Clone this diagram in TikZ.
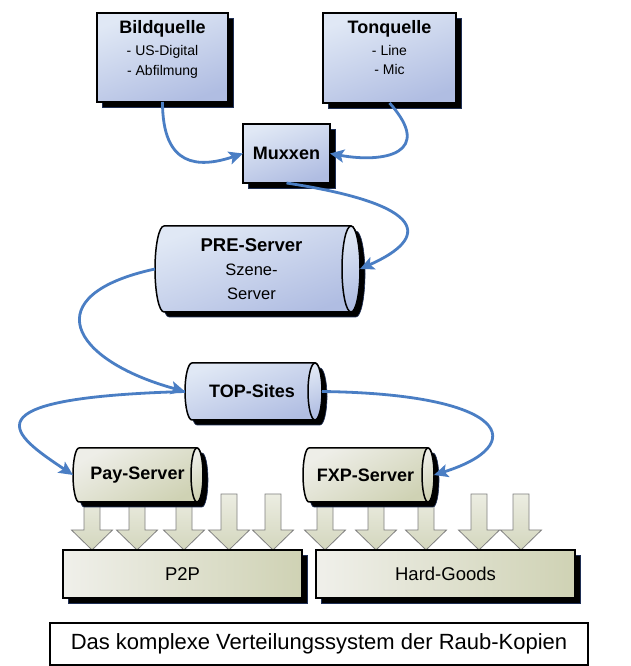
\documentclass[tikz,border=0pt]{standalone}
\usepackage{fontspec}
\setmainfont{Liberation Sans}
\usetikzlibrary{arrows.meta,shadows}
\definecolor{conncol}{HTML}{4A7EC4}
\definecolor{bluetop}{HTML}{E0E8F5}
\definecolor{bluebot}{HTML}{B0BDE2}
\definecolor{beigetop}{HTML}{EEEEE8}
\definecolor{beigebot}{HTML}{CFD2B4}
\definecolor{arrtop}{HTML}{ECEDE2}
\definecolor{arrbot}{HTML}{D3D6BD}
\definecolor{shadedge}{HTML}{1F2F55}
\tikzset{
  shadowed/.style={general shadow={fill=black, draw=shadedge, line width=0.6pt, shadow xshift=5pt, shadow yshift=-5pt}},
  bluefill/.style={top color=bluetop, bottom color=bluebot, shading angle=20},
  beigefill/.style={top color=beigetop, bottom color=beigebot, shading angle=30},
  bluebox/.style={draw=black, line width=1.5pt, bluefill, shadowed, inner sep=0pt, outer sep=0pt},
  beigebox/.style={draw=black, line width=1.5pt, left color=beigetop!90!white, right color=beigebot, shadowed, inner sep=0pt, outer sep=0pt},
  cylbody/.style={draw=black, line width=1.5pt, shadowed},
  cylend/.style={draw=black, line width=1.5pt},
  anchornode/.style={inner sep=0pt, outer sep=0pt},
  titlefont/.style={font=\bfseries\fontsize{18}{22}\selectfont},
  subfont/.style={font=\fontsize{14}{20}\selectfont},
  midfont/.style={font=\fontsize{16.5}{24}\selectfont},
  bigfont/.style={font=\fontsize{18.5}{22}\selectfont},
  blockarrow/.style={draw=black!50, line width=0.8pt, top color=arrtop, bottom color=arrbot},
  conn/.style={draw=conncol, line width=2.8pt, -{Stealth[length=14pt,width=13pt,inset=3pt]}}
}
% cylinder: x0, ybottom, x1, ytop, rx, fill style
\newcommand\cylshape[6]{%
  \pgfmathsetmacro\cyc{(#2+#4)/2}%
  \pgfmathsetmacro\cyr{(#4-#2)/2}%
  \pgfmathsetmacro\cxl{#1+#5}%
  \pgfmathsetmacro\cxr{#3-#5}%
  \path[cylbody,#6] (\cxl,#4) -- (\cxr,#4) arc[start angle=90,end angle=-90,x radius=#5,y radius=\cyr] -- (\cxl,#2) arc[start angle=270,end angle=90,x radius=#5,y radius=\cyr] -- cycle;
  \path[cylend,#6] (\cxr,\cyc) ellipse[x radius=#5, y radius=\cyr];
}
\begin{document}
\begin{tikzpicture}[x=1pt,y=1pt]
\useasboundingbox (0,0) rectangle (631,666);
\fill[white] (0,0) rectangle (631,666);

% top boxes
\node[bluebox, minimum width=131pt, minimum height=89pt] (bild) at (162.5,608.5) {};
\node[titlefont, anchor=base] (bildt) at (162.5,632) {Bildquelle};
\node[subfont, anchor=base] (bilda) at (162.5,610) {- US-Digital};
\node[subfont, anchor=base] (bildb) at (162.5,590) {- Abfilmung};

\node[bluebox, minimum width=133pt, minimum height=90pt] (ton) at (389.5,608) {};
\node[titlefont, anchor=base] (tont) at (389.5,632) {Tonquelle};
\node[subfont, anchor=base] (tona) at (389.5,610) {- Line};
\node[subfont, anchor=base] (tonb) at (389.5,591) {- Mic};

\node[bluebox, minimum width=87pt, minimum height=59pt, titlefont] (mux) at (286.5,512.5) {Muxxen};

% block arrows
\foreach \cx in {92,137,184,229,273,325,376,426,479,521}
  \path[blockarrow] (\cx-8,172) -- (\cx-8,136) -- (\cx-20.5,136) -- (\cx,116) -- (\cx+20.5,136) -- (\cx+8,136) -- (\cx+8,172) -- cycle;

% cylinders
\cylshape{155}{354}{360}{440}{9}{bluefill}
\node[anchornode, minimum width=205pt, minimum height=86pt] (pre) at (257.5,397) {};
\node[align=center, midfont] (pret) at (251.5,397) {\textbf{\fontsize{18.5}{24}\selectfont PRE-Server}\\Szene-\\Server};

\cylshape{185}{246}{322}{303}{7}{bluefill}
\node[anchornode, minimum width=137pt, minimum height=57pt] (top) at (253.5,274.5) {};
\node[titlefont] (topt) at (252,274.5) {TOP-Sites};

\cylshape{73}{164}{203}{218}{6}{beigefill}
\node[anchornode, minimum width=130pt, minimum height=54pt] (pay) at (138,191) {};
\node[titlefont] (payt) at (137.5,191) {Pay-Server};

\cylshape{303}{164}{434}{218}{6}{beigefill}
\node[anchornode, minimum width=131pt, minimum height=54pt] (fxp) at (368.5,191) {};
\node[titlefont] (fxpt) at (365.5,191) {FXP-Server};

% bottom boxes
\node[beigebox, minimum width=239pt, minimum height=48pt, bigfont] (p2p) at (182.5,92) {P2P};
\node[beigebox, minimum width=259pt, minimum height=48pt, bigfont] (hard) at (445.5,92) {Hard-Goods};

% caption
\node[draw=black, line width=1.3pt, minimum width=538pt, minimum height=42pt, font=\fontsize{22}{26}\selectfont] (cap) at (319,22) {Das komplexe Verteilungssystem der Raub-Kopien};

% connectors
\draw[conn] (bild.south) .. controls +(0,-65) and +(-45,-15) .. (mux.west);
\draw[conn] (ton.south) .. controls +(45,-50) and +(55,-10) .. (mux.east);
\draw[conn] (mux.south) .. controls +(143.5,-22) and +(70,31) .. (pre.east);
\draw[conn] (pre.west) .. controls +(-120,-26) and +(-115,31.5) .. (top.west);
\draw[conn] (top.west) .. controls +(-225,-6.5) and +(-60,40) .. (pay.west);
\draw[conn] (top.east) .. controls +(188,-2.5) and +(96,30) .. (fxp.east);
\end{tikzpicture}
\end{document}
